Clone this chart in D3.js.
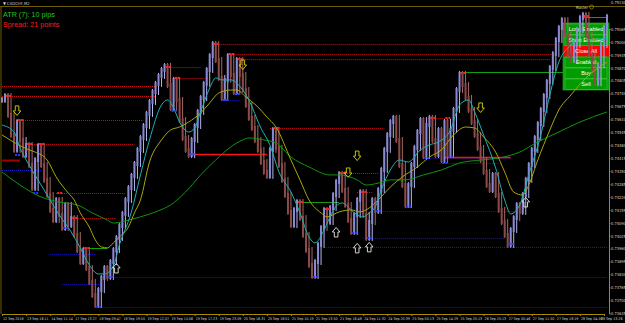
<!DOCTYPE html>
<html>
<head>
<meta charset="utf-8">
<script src="https://cdn.jsdelivr.net/npm/d3@7"></script>
<style>
body { margin: 0; background: #000; }
svg { display: block; font-family: "Liberation Sans", Arial, sans-serif; }
</style>
</head>
<body>
<div id="chart"></div>
<script>
// bottom time labels, one every 8 bars
var dateLabels = ["12 Sep 2018", "13 Sep 16:11", "14 Sep 11:14", "17 Sep 13:27", "18 Sep 09:47", "18 Sep 19:50",
    "19 Sep 12:07", "19 Sep 15:06", "19 Sep 17:23", "19 Sep 23:09", "20 Sep 16:31", "20 Sep 18:01", "21 Sep 10:19",
    "21 Sep 13:50", "21 Sep 16:48", "24 Sep 11:32", "24 Sep 20:39", "25 Sep 00:13", "25 Sep 14:29", "25 Sep 20:13",
    "26 Sep 20:13", "27 Sep 00:46", "27 Sep 11:50", "27 Sep 18:19", "28 Sep 04:08", "28 Sep 13:26"];

var priceTicks = [0.75065, 0.75000, 0.74935, 0.74870, 0.74805, 0.74740, 0.74675, 0.74610, 0.74545, 0.74480,
    0.74415, 0.74350, 0.74285, 0.74220, 0.74155, 0.74090, 0.74025, 0.73960, 0.73895, 0.73830, 0.73765, 0.73700, 0.73635];

// close of every bar
var closes = [
    0.74708,0.74728,0.74633,0.74532,0.74457,0.74597,0.74507,0.74431,0.74482,0.74381,
    0.74265,0.74406,0.74477,0.74381,0.74306,0.74230,0.74155,0.74104,0.74205,0.74130,
    0.74064,0.74180,0.74079,0.74114,0.74029,0.73953,0.73893,0.73953,0.73863,0.73792,
    0.73727,0.73677,0.73752,0.73813,0.73863,0.73818,0.73893,0.73953,0.74014,0.74074,
    0.74135,0.74205,0.74265,0.74326,0.74386,0.74457,0.74517,0.74577,0.74638,0.74698,
    0.74748,0.74789,0.74829,0.74859,0.74879,0.74783,0.74668,0.74809,0.74708,0.74607,
    0.74517,0.74457,0.74431,0.74507,0.74577,0.74648,0.74718,0.74789,0.74859,0.74929,
    0.74990,0.74909,0.74819,0.74718,0.74809,0.74929,0.74834,0.74748,0.74909,0.74834,
    0.74758,0.74683,0.74618,0.74567,0.74507,0.74457,0.74396,0.74346,0.74326,0.74457,
    0.74557,0.74467,0.74381,0.74306,0.74230,0.74145,0.74079,0.74155,0.74195,0.74114,
    0.74029,0.73953,0.73878,0.73823,0.73893,0.73979,0.74064,0.74155,0.74094,0.74165,
    0.74230,0.74296,0.74336,0.74255,0.74180,0.74104,0.74044,0.74130,0.74205,0.74245,
    0.74130,0.74014,0.74094,0.74205,0.74150,0.74255,0.74356,0.74457,0.74532,0.74597,
    0.74618,0.74507,0.74381,0.74280,0.74180,0.74280,0.74381,0.74467,0.74547,0.74607,
    0.74426,0.74582,0.74618,0.74507,0.74431,0.74557,0.74406,0.74597,0.74431,0.74557,
    0.74658,0.74758,0.74839,0.74783,0.74718,0.74658,0.74597,0.74532,0.74467,0.74406,
    0.74346,0.74280,0.74255,0.74331,0.74230,0.74155,0.74094,0.74029,0.73979,0.74054,
    0.74114,0.74180,0.74145,0.74230,0.74306,0.74381,0.74457,0.74517,0.74587,0.74658,
    0.74728,0.74799,0.74869,0.74939,0.75010,0.75070,0.75110,0.75035,0.74934,0.74909,
    0.74985,0.75060,0.75121,0.75136,0.75035,0.74934,0.74859,0.74793,0.74884,0.74985,
    0.75070,0.75126
];

// moving averages, [bar, price]
var maFast = [[0,0.74582],[4,0.74547],[6,0.74467],[9,0.74381],[13,0.74280],[16,0.74205],[19,0.74130],[23,0.74044],
    [26,0.73964],[29,0.73878],[32,0.73833],[34,0.73833],[37,0.73873],[39,0.73979],[43,0.74145],[46,0.74331],
    [49,0.74507],[53,0.74683],[55,0.74708],[57,0.74668],[59,0.74597],[62,0.74547],[64,0.74567],[66,0.74648],
    [69,0.74768],[71,0.74819],[73,0.74809],[76,0.74809],[79,0.74777],[82,0.74708],[86,0.74567],[89,0.74482],
    [92,0.74346],[96,0.74245],[99,0.74140],[102,0.74019],[104,0.73989],[107,0.74054],[109,0.74120],[111,0.74174],
    [113,0.74190],[116,0.74155],[118,0.74130],[120,0.74120],[122,0.74140],[124,0.74170],[126,0.74255],[129,0.74356],
    [132,0.74406],[135,0.74396],[139,0.74457],[142,0.74482],[145,0.74497],[149,0.74557],[152,0.74683],[155,0.74708],
    [157,0.74648],[160,0.74532],[164,0.74366],[167,0.74205],[169,0.74135],[172,0.74180],[175,0.74331],[179,0.74532],
    [182,0.74733],[185,0.74899],[189,0.74985],[192,0.75035],[195,0.75010],[201,0.75020]];

var maMid = [[0,0.74532],[9,0.74457],[11,0.74446],[15,0.74406],[18,0.74321],[22,0.74240],[24,0.74205],[26,0.74140],
    [29,0.74069],[31,0.74004],[33,0.73969],[35,0.73964],[37,0.73989],[39,0.74019],[42,0.74069],[44,0.74140],
    [46,0.74205],[49,0.74396],[53,0.74507],[56,0.74557],[59,0.74572],[62,0.74597],[66,0.74643],[69,0.74693],
    [72,0.74743],[76,0.74758],[78,0.74758],[81,0.74723],[85,0.74673],[88,0.74622],[91,0.74572],[96,0.74406],
    [99,0.74306],[102,0.74205],[106,0.74140],[108,0.74120],[112,0.74145],[116,0.74155],[119,0.74145],[122,0.74165],
    [125,0.74205],[129,0.74270],[133,0.74321],[138,0.74371],[142,0.74421],[146,0.74457],[150,0.74532],[154,0.74572],
    [157,0.74567],[160,0.74522],[164,0.74446],[167,0.74346],[170,0.74245],[173,0.74230],[175,0.74280],[178,0.74406],
    [182,0.74557],[185,0.74658],[189,0.74733],[194,0.74819],[201,0.74899]];

var maSlow = [[0,0.74346],[6,0.74280],[13,0.74220],[19,0.74195],[25,0.74180],[30,0.74140],[35,0.74104],[37,0.74089],
    [42,0.74104],[46,0.74120],[51,0.74145],[56,0.74180],[61,0.74245],[66,0.74331],[71,0.74406],[76,0.74472],
    [80,0.74507],[82,0.74517],[87,0.74507],[91,0.74492],[96,0.74421],[102,0.74371],[109,0.74331],[112,0.74331],
    [118,0.74306],[121,0.74280],[125,0.74290],[129,0.74306],[134,0.74306],[140,0.74331],[146,0.74356],[152,0.74391],
    [159,0.74406],[165,0.74416],[172,0.74446],[178,0.74497],[185,0.74547],[192,0.74597],[201,0.74648]];

// levels [from bar, to bar, price]
var resistLevels = [[0,52,0.74778],[0,51,0.74728],[5,47,0.74607],[8,44,0.74487],[18,41,0.74240],[24,38,0.74114],
    [55,66,0.74874],[57,68,0.74819],[70,184,0.74990],[75,183,0.74939],[78,182,0.74914],[89,127,0.74567],
    [112,125,0.74341],[118,123,0.74245],[107,111,0.74160],[141,148,0.74617]];
var supportLevels = [[0,13,0.74356],[16,31,0.73933],[20,33,0.73783],[35,201,0.73818],[32,201,0.73667],
    [107,201,0.73969],[124,170,0.74150],[120,167,0.74014],[73,79,0.74708],[140,169,0.74416],[145,165,0.74391]];
var redLines = [[62,88,0.74436],[147,169,0.74421]];
var darkRedLines = [[0,6,0.74406]];
var greenLines = [[152,187,0.74849],[98,112,0.74195],[29,35,0.73964],[193,201,0.75126]];

// swing markers [bar, price]
var highMarks = [[1,0.74728],[5,0.74607],[8,0.74487],[12,0.74487],[18,0.74240],[23,0.74114],[27,0.73964],
    [54,0.74874],[57,0.74819],[70,0.74990],[75,0.74939],[78,0.74914],[90,0.74567],[98,0.74195],[107,0.74160],
    [112,0.74341],[119,0.74245],[142,0.74617],[147,0.74617],[152,0.74844],[193,0.75131]];
var lowMarks = [[4,0.74431],[10,0.74240],[20,0.74064],[31,0.73667],[35,0.73818],[56,0.74653],[62,0.74436],
    [73,0.74708],[77,0.74738],[103,0.73818],[116,0.74039],[121,0.74014],[124,0.74150],[134,0.74170],
    [140,0.74416],[146,0.74391],[148,0.74421],[168,0.73984]];

var sellArrows = [[5,0.74653],[80,0.74884],[118,0.74426],[115,0.74341],[159,0.74668]];
var buyArrows = [[38,0.73863],[111,0.74044],[118,0.73964],[122,0.73969],[174,0.74195]];

var buttons = ["Long Enabled", "Short Enabled", "Close All", "Enabled", "Buy", "Sell"];

var width = 625, height = 323;
var smallFont = "'Liberation Sans Narrow', 'DejaVu Sans Condensed', Arial, sans-serif";

var svg = d3.select("#chart").append("svg")
    .attr("width", width)
    .attr("height", height);

svg.append("rect").attr("width", width).attr("height", height).attr("fill", "#000");

var x = d3.scaleLinear().domain([0, 200]).range([2, 604]);
var y = d3.scaleLinear().domain([0.73635, 0.75065]).range([313.3, 29]);

// frame
svg.append("line").attr("x1", 0).attr("x2", width).attr("y1", 6.5).attr("y2", 6.5)
    .attr("stroke", "#6e5c00").attr("stroke-width", 1);
svg.append("line").attr("x1", 1).attr("x2", 1).attr("y1", 6).attr("y2", 314)
    .attr("stroke", "#6e5c00");
svg.append("text").attr("x", 3).attr("y", 4.6).attr("fill", "#c8c8c8")
    .attr("font-size", 4.2).attr("font-family", smallFont).text("\u25BC CADCHF,M2");

// trade panel
var panel = svg.append("g");
panel.append("rect").attr("x", 563).attr("y", 23).attr("width", 46).attr("height", 67)
    .attr("fill", "#009c00").attr("stroke", "#2fb82f").attr("stroke-width", 0.6);
buttons.forEach(function (b, i) {
    var by = 24 + i * 11;
    panel.append("rect").attr("x", b == "Close All" ? 563 : 565).attr("y", by)
        .attr("width", b == "Close All" ? 46 : 42).attr("height", 10.5)
        .attr("fill", b == "Close All" ? "#ff0000" : "#009c00")
        .attr("stroke", b == "Close All" ? "none" : "#45c845").attr("stroke-width", 0.6);
    panel.append("text").attr("x", 586).attr("y", by + 7.2)
        .attr("text-anchor", "middle").attr("fill", "#ffffff").attr("font-size", 5.6).text(b);
});

function hline(list, color, dash, w) {
    svg.selectAll(null).data(list).enter().append("line")
        .attr("x1", function (d) { return x(d[0]); })
        .attr("x2", function (d) { return Math.min(x(d[1]), 609); })
        .attr("y1", function (d) { return Math.round(y(d[2])) + 0.5; })
        .attr("y2", function (d) { return Math.round(y(d[2])) + 0.5; })
        .attr("stroke", color).attr("stroke-width", w)
        .attr("stroke-dasharray", dash);
}
hline(resistLevels, "#c81010", "1,1", 1);
hline(supportLevels, "#1818c0", "1,1", 1);
hline(redLines, "#ff1010", null, 1.5);
hline(darkRedLines, "#a00000", null, 2);
hline(greenLines, "#10a010", null, 1);

// bars: body open->close, shadow reaching back over the previous bar range
function barRange(i) {
    var a = closes[Math.max(0, i - 2)], b = closes[Math.max(0, i - 1)], c = closes[i];
    return [Math.min(a, b, c), Math.max(a, b, c)];
}
function isUp(i) { return i == 0 || closes[i] >= closes[i - 1]; }

svg.selectAll(".wick").data(closes).enter().append("rect")
    .attr("class", "wick")
    .attr("x", function (d, i) { return x(i) - 0.5; })
    .attr("width", 1)
    .attr("y", function (d, i) { return y(barRange(i)[1]) - 3; })
    .attr("height", function (d, i) { var r = barRange(i); return y(r[0]) - y(r[1]) + 6; })
    .attr("fill", function (d, i) { return isUp(i) ? "#b4b4ee" : "#a86866"; });

svg.selectAll(".bar").data(closes).enter().append("rect")
    .attr("class", "bar")
    .attr("x", function (d, i) { return x(i) - 1; })
    .attr("width", 2)
    .attr("y", function (d, i) {
        var o = i > 0 ? closes[i - 1] : d;
        return y(Math.max(o, d)) - 2;
    })
    .attr("height", function (d, i) {
        var o = i > 0 ? closes[i - 1] : d;
        return Math.abs(y(o) - y(d)) + 4;
    })
    .attr("fill", function (d, i) { return isUp(i) ? "#8a8ad4" : "#8c4a48"; });

// moving averages
var maLine = d3.line()
    .x(function (d) { return x(d[0]); })
    .y(function (d) { return y(d[1]); })
    .curve(d3.curveMonotoneX);
svg.append("path").datum(maSlow).attr("d", maLine).attr("fill", "none").attr("stroke", "#0f960f").attr("stroke-width", 1);
svg.append("path").datum(maMid).attr("d", maLine).attr("fill", "none").attr("stroke", "#a8a80c").attr("stroke-width", 1);
svg.append("path").datum(maFast).attr("d", maLine).attr("fill", "none").attr("stroke", "#19b3b3").attr("stroke-width", 1);

// swing markers
function marks(list, color) {
    list.forEach(function (d) {
        [1, 4].forEach(function (off) {
            svg.append("rect").attr("x", x(d[0]) + off).attr("y", Math.round(y(d[1])) - 1)
                .attr("width", 2).attr("height", 2).attr("fill", color);
        });
    });
}
marks(highMarks, "#ff2020");
marks(lowMarks, "#2838ff");

// arrows
var arrowPath = "M-1.8,-5 L1.8,-5 L1.8,0 L3.8,0 L0,4.5 L-3.8,0 L-1.8,0 Z";
svg.selectAll(".sell").data(sellArrows).enter().append("path")
    .attr("d", arrowPath)
    .attr("transform", function (d) { return "translate(" + x(d[0]) + "," + y(d[1]) + ")"; })
    .attr("fill", "none").attr("stroke", "#d8d800").attr("stroke-width", 0.9);
svg.selectAll(".buy").data(buyArrows).enter().append("path")
    .attr("d", arrowPath)
    .attr("transform", function (d) { return "translate(" + x(d[0]) + "," + y(d[1]) + ") scale(1,-1)"; })
    .attr("fill", "none").attr("stroke", "#e8e8e8").attr("stroke-width", 0.9);

// axes
var yAxis = svg.append("g")
    .attr("transform", "translate(609,0)")
    .call(d3.axisRight(y).tickValues(priceTicks).tickFormat(d3.format(".5f")).tickSize(1.5).tickPadding(0.5));
var xAxis = svg.append("g")
    .attr("transform", "translate(0,314)")
    .call(d3.axisBottom(x).tickValues(d3.range(0, 201, 8)).tickFormat(function (d) { return dateLabels[d / 8]; })
        .tickSize(2).tickPadding(1));
[yAxis, xAxis].forEach(function (a) {
    a.select(".domain").attr("stroke", "#a88a00");
    a.selectAll(".tick line").attr("stroke", "#a88a00");
    a.selectAll("text").attr("fill", "#d0d0d0").attr("font-size", 4)
        .attr("font-family", smallFont);
});
xAxis.selectAll("text").attr("text-anchor", "start").attr("dx", 0.5).attr("font-size", 3.6);
// last time label pulled back inside the window
xAxis.selectAll(".tick").filter(function (d) { return d == 200; }).select("text")
    .attr("text-anchor", "end").attr("dx", 18);
svg.append("text").attr("x", 611).attr("y", 4).attr("fill", "#d0d0d0").attr("font-size", 4)
    .attr("font-family", smallFont).text("0.75130");
svg.append("text").attr("x", 588).attr("y", 8.5).attr("fill", "#d0d0d0").attr("font-size", 4)
    .attr("font-family", smallFont).attr("text-anchor", "end").text("Master");
svg.append("circle").attr("cx", 591.5).attr("cy", 7).attr("r", 2).attr("fill", "none").attr("stroke", "#c0a000").attr("stroke-width", 0.6);

// info text
svg.append("text").attr("x", 3).attr("y", 17).attr("fill", "#22c822").attr("font-size", 7.2).text("ATR (7): 10 pips");
svg.append("text").attr("x", 3).attr("y", 26.5).attr("fill", "#ff1a1a").attr("font-size", 7.2).text("Spread: 21 points");
</script>
</body>
</html>
